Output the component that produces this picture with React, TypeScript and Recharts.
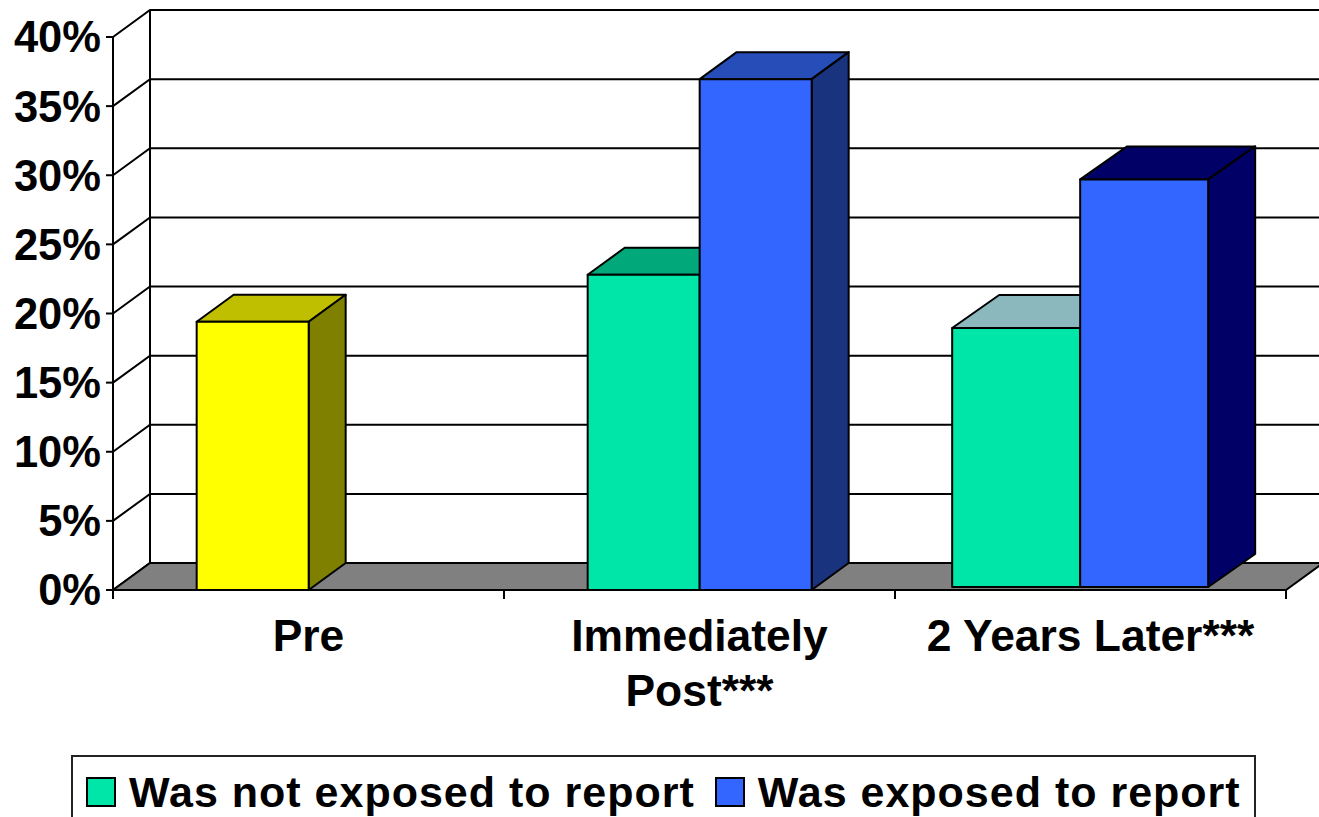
import React from "react";
import { BarChart, Bar, XAxis, YAxis, CartesianGrid, Legend, usePlotArea } from "recharts";

const categories = ["Pre", "Immediately Post***", "2 Years Later***"];
const categoryLines = [["Pre"], ["Immediately", "Post***"], ["2 Years Later***"]];
const notExposed = [19.4, 22.8, 18.95];
const exposed: (number | null)[] = [null, 36.95, 29.7];
const yTicks = [0, 5, 10, 15, 20, 25, 30, 35, 40];

const data = categories.map((name, i) => ({ name, notExposed: notExposed[i], exposed: exposed[i] }));

const FONT = "'Liberation Sans', Arial, sans-serif";
const DEPTH_X = 37;
const DEPTH_Y = 27;

// face colours per category: [front, top, side]
const notExposedFaces = [
  ["#ffff00", "#bfbf00", "#808000"],
  ["#00e6a8", "#00a87a", "#00a87a"],
  ["#00e6a8", "#8bb8bc", "#8bb8bc"],
];
const exposedFaces = [
  ["#3366ff", "#264db8", "#19337f"],
  ["#3366ff", "#264db8", "#19337f"],
  ["#3366ff", "#000066", "#000066"],
];

// the last group is drawn wider, deeper and sits slightly above the floor edge
const groupLayout = [
  { stretch: 1, shift: 0, lift: 0, dx: DEPTH_X, dy: DEPTH_Y },
  { stretch: 1, shift: 0, lift: 0, dx: DEPTH_X, dy: DEPTH_Y },
  { stretch: 128 / 112, shift: -10.5, lift: 3, dx: 47, dy: 33 },
];

const makeBox = (faces: string[][], slot: number) => (props: any) => {
  const { x, y, width, height, payload } = props;
  if (height == null || height <= 0) return null;
  const group = categories.indexOf(payload.name);
  const layout = groupLayout[group];
  const centre = x + width * (1 - slot);
  const left = centre + layout.shift + (x - centre) * layout.stretch;
  const w = width * layout.stretch;
  const top = y;
  const bottom = y + height - layout.lift;
  const { dx, dy } = layout;
  const [front, lid, side] = faces[group];
  const edge = { stroke: "#000", strokeWidth: 2, strokeLinejoin: "round" as const };
  return (
    <g>
      <polygon
        points={`${left},${top} ${left + dx},${top - dy} ${left + w + dx},${top - dy} ${left + w},${top}`}
        fill={lid}
        {...edge}
      />
      <polygon
        points={`${left + w},${top} ${left + w + dx},${top - dy} ${left + w + dx},${bottom - dy} ${left + w},${bottom}`}
        fill={side}
        {...edge}
      />
      <rect x={left} y={top} width={w} height={bottom - top} fill={front} {...edge} />
    </g>
  );
};

// grey floor, left wall and the category tick marks under the axis
const Room = () => {
  const plot = usePlotArea();
  if (!plot) return null;
  const { x, y, width, height } = plot;
  const base = y + height;
  return (
    <g>
      <polygon
        points={`${x},${base} ${x + DEPTH_X},${base - DEPTH_Y} ${x + width + DEPTH_X},${base - DEPTH_Y} ${x + width},${base}`}
        fill="#808080"
        stroke="#000"
        strokeWidth={2}
      />
      <line x1={x + DEPTH_X} y1={y - DEPTH_Y} x2={x + DEPTH_X} y2={base - DEPTH_Y} stroke="#000" strokeWidth={2} />
      {categories.map((_, i) => (
        <line
          key={i}
          x1={x + (width * (i + 1)) / categories.length}
          y1={base}
          x2={x + (width * (i + 1)) / categories.length}
          y2={base + 9}
          stroke="#000"
          strokeWidth={2}
        />
      ))}
      <line x1={x} y1={base} x2={x} y2={base + 9} stroke="#000" strokeWidth={2} />
    </g>
  );
};

// wall gridline: runs up the side wall from the tick, then across the back
const wallLine = (props: any) => {
  const { x1, x2, y1, key } = props;
  return (
    <polyline
      key={key}
      points={`${x1},${y1} ${x1 + DEPTH_X},${y1 - DEPTH_Y} ${x2 + DEPTH_X},${y1 - DEPTH_Y}`}
      fill="none"
      stroke="#000"
      strokeWidth={2}
    />
  );
};

const CategoryTick = (props: any) => {
  const { x, y, payload } = props;
  const lines = categoryLines[categories.indexOf(payload.value)] ?? [payload.value];
  return (
    <text x={x} y={y} textAnchor="middle" fontFamily={FONT} fontWeight="bold" fontSize={44.4} fill="#000">
      {lines.map((line: string, i: number) => (
        <tspan key={i} x={x} y={y + 55 + i * 55}>
          {line}
        </tspan>
      ))}
    </text>
  );
};

const LegendBox = ({ payload }: any) => (
  <div
    style={{
      boxSizing: "border-box",
      height: 80,
      border: "2px solid #222",
      display: "flex",
      alignItems: "center",
      paddingLeft: 13,
      paddingBottom: 6,
      fontFamily: FONT,
      fontWeight: "bold",
      fontSize: 43,
      letterSpacing: 1,
      whiteSpace: "nowrap",
      color: "#000",
    }}
  >
    {(payload ?? []).map((entry: any, i: number) => (
      <div key={i} style={{ display: "flex", alignItems: "center", marginRight: 20 }}>
        <span
          style={{
            display: "inline-block",
            boxSizing: "border-box",
            width: 30,
            height: 30,
            marginRight: 13,
            background: entry.color,
            border: "2px solid #000",
          }}
        />
        {entry.value}
      </div>
    ))}
  </div>
);

export default function App() {
  return (
    <div style={{ position: "absolute", left: 0, top: 0, width: 1319, height: 817, overflow: "hidden" }}>
      <BarChart
        width={1319}
        height={817}
        data={data}
        margin={{ top: 37, right: 33, left: 0, bottom: 0 }}
        barGap={0}
        barCategoryGap="21.4%"
      >
        <Room />
        <CartesianGrid vertical={false} horizontal={wallLine} />
        <XAxis
          dataKey="name"
          height={227}
          interval={0}
          axisLine={{ stroke: "#000", strokeWidth: 2 }}
          tickLine={false}
          tickMargin={0}
          tick={<CategoryTick />}
        />
        <YAxis
          width={113}
          domain={[0, 40]}
          ticks={yTicks}
          tickFormatter={(v: number) => `${v}%`}
          axisLine={{ stroke: "#000", strokeWidth: 2 }}
          tickLine={{ stroke: "#000", strokeWidth: 2 }}
          tickSize={7}
          tickMargin={5}
          tick={{ fontFamily: FONT, fontWeight: "bold", fontSize: 43.5, fill: "#000" }}
        />
        <Bar dataKey="notExposed" name="Was not exposed to report" fill="#00e6a8" isAnimationActive={false} shape={makeBox(notExposedFaces, 0)} />
        <Bar dataKey="exposed" name="Was exposed to report" fill="#3366ff" isAnimationActive={false} shape={makeBox(exposedFaces, 1)} />
        <Legend
          layout="horizontal"
          verticalAlign="middle"
          itemSorter={null}
          content={<LegendBox />}
          wrapperStyle={{ left: 71, top: 755, width: 1185 }}
        />
      </BarChart>
    </div>
  );
}
